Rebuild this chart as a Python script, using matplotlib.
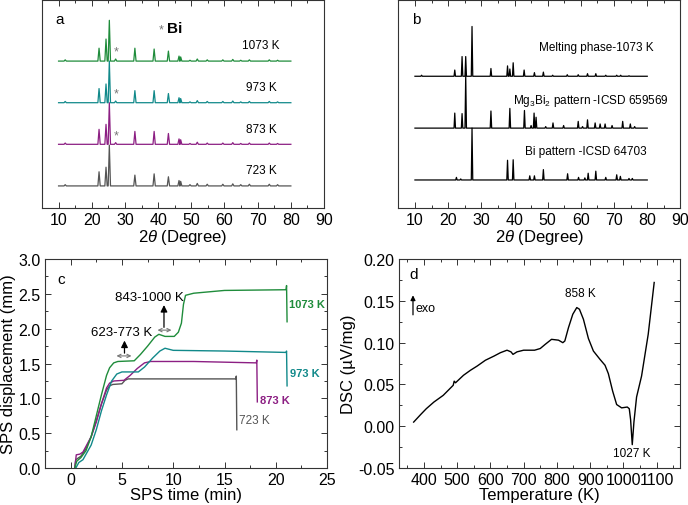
import numpy as np
import matplotlib.pyplot as plt
from matplotlib.ticker import MultipleLocator

plt.rcParams['font.family'] = ['Liberation Sans', 'DejaVu Sans']
plt.rcParams['axes.unicode_minus'] = False
plt.rcParams['mathtext.fontset'] = 'custom'
plt.rcParams['mathtext.rm'] = 'Liberation Sans'
plt.rcParams['mathtext.it'] = 'Liberation Sans:italic'

# ---- panel a: XRD after SPS ----
a_pos = [12.0, 22.2, 24.3, 25.3, 27.2, 33.0, 38.8, 43.1, 46.3, 46.8, 49.6, 51.8, 54.8, 59.5, 62.5, 64.9, 67.5, 73.5, 76.0]
a_1073 = [0.03, 0.31, 0.53, 0.98, 0.05, 0.31, 0.29, 0.24, 0.12, 0.10, 0.02, 0.05, 0.03, 0.03, 0.04, 0.02, 0.03, 0.03, 0.02]
a_973 = [0.03, 0.34, 0.45, 1.00, 0.04, 0.29, 0.29, 0.22, 0.12, 0.10, 0.02, 0.05, 0.03, 0.03, 0.04, 0.02, 0.03, 0.03, 0.02]
a_873 = [0.03, 0.36, 0.48, 1.00, 0.04, 0.31, 0.31, 0.26, 0.13, 0.11, 0.02, 0.05, 0.03, 0.03, 0.04, 0.02, 0.03, 0.03, 0.02]
a_723 = [0.03, 0.34, 0.45, 0.98, 0.00, 0.26, 0.29, 0.22, 0.13, 0.11, 0.03, 0.06, 0.04, 0.04, 0.05, 0.03, 0.04, 0.04, 0.03]
a_labels = ['723 K', '873 K', '973 K', '1073 K']
a_colors = ['#555555', '#8c1f83', '#11898a', '#1f8c3b']

# ---- panel b: reference patterns ----
melt_pos = [12.0, 22.0, 24.2, 25.3, 27.2, 32.9, 37.9, 38.6, 39.6, 42.9, 46.0, 48.7, 51.5, 55.9, 59.2, 62.0, 64.5, 67.5, 70.8, 72.0, 74.5]
melt_int = [0.02, 0.12, 0.38, 0.38, 0.96, 0.15, 0.20, 0.14, 0.26, 0.12, 0.07, 0.08, 0.02, 0.03, 0.03, 0.05, 0.05, 0.02, 0.02, 0.02, 0.01]
mg_pos = [22.0, 24.2, 25.3, 32.9, 38.6, 43.0, 45.0, 45.9, 46.5, 49.4, 51.6, 54.8, 59.2, 60.5, 62.0, 64.3, 65.8, 67.3, 69.4, 72.6, 74.9, 76.2]
mg_int = [0.29, 0.28, 1.03, 0.33, 0.38, 0.34, 0.05, 0.29, 0.21, 0.03, 0.10, 0.05, 0.13, 0.03, 0.16, 0.10, 0.08, 0.08, 0.05, 0.13, 0.08, 0.03]
bi_pos = [22.5, 23.8, 27.2, 37.9, 39.6, 44.6, 46.0, 48.7, 56.0, 59.3, 61.2, 62.2, 64.5, 67.5, 70.8, 71.9, 74.5, 75.5]
bi_int = [0.05, 0.02, 1.00, 0.38, 0.39, 0.08, 0.08, 0.20, 0.12, 0.05, 0.04, 0.13, 0.17, 0.05, 0.10, 0.07, 0.03, 0.03]

# ---- panel c: SPS displacement ----
t_723 = [0.4, 0.5, 1.0, 1.5, 2.0, 2.5, 3.0, 3.5, 3.8, 4.1, 5.0, 5.3, 5.6, 16.1, 16.15, 16.2]
d_723 = [0.0, 0.12, 0.17, 0.28, 0.45, 0.68, 0.92, 1.12, 1.18, 1.20, 1.21, 1.26, 1.28, 1.28, 1.32, 0.55]
t_873 = [0.4, 0.55, 0.9, 1.2, 2.0, 2.5, 3.0, 3.5, 3.8, 4.2, 5.2, 5.8, 6.5, 7.2, 7.8, 12.0, 18.1, 18.15, 18.2]
d_873 = [0.0, 0.19, 0.20, 0.23, 0.45, 0.66, 0.92, 1.15, 1.22, 1.25, 1.26, 1.33, 1.43, 1.51, 1.53, 1.53, 1.51, 1.55, 0.95]
t_973 = [0.5, 0.8, 1.2, 2.0, 2.5, 3.0, 3.5, 4.0, 4.5, 5.0, 6.6, 7.2, 8.0, 8.7, 9.2, 10.0, 15.0, 21.0, 21.05, 21.1]
d_973 = [0.0, 0.08, 0.12, 0.33, 0.55, 0.82, 1.05, 1.25, 1.35, 1.38, 1.38, 1.45, 1.58, 1.68, 1.72, 1.69, 1.68, 1.66, 1.68, 1.18]
t_1073 = [0.4, 0.6, 1.0, 1.5, 2.0, 2.5, 3.0, 3.5, 3.8, 4.2, 4.6, 6.2, 6.8, 7.5, 8.2, 8.6, 9.2, 10.1, 10.5, 10.8, 11.0, 11.2, 12.0, 15.0, 21.0, 21.05, 21.1]
d_1073 = [0.0, 0.10, 0.15, 0.25, 0.45, 0.75, 1.05, 1.33, 1.44, 1.51, 1.53, 1.54, 1.63, 1.75, 1.88, 1.92, 1.89, 1.89, 1.95, 2.08, 2.35, 2.48, 2.51, 2.55, 2.56, 2.62, 2.10]

# ---- panel d: DSC ----
temp = [369, 390, 407, 430, 458, 488, 491, 495, 519, 540, 560, 585, 611, 630, 650, 662, 668, 680, 700, 733, 750, 765, 784,
        805, 818, 824, 835, 848, 860, 868, 880, 895, 910, 930, 945, 955, 968, 980, 995, 1012, 1018, 1022, 1027, 1032, 1040,
        1055, 1075, 1093]
dsc = [0.005, 0.014, 0.021, 0.029, 0.037, 0.049, 0.054, 0.052, 0.061, 0.067, 0.072, 0.079, 0.084, 0.088, 0.091, 0.089,
       0.086, 0.089, 0.091, 0.091, 0.093, 0.098, 0.104, 0.103, 0.100, 0.102, 0.118, 0.134, 0.142, 0.140, 0.128, 0.105,
       0.090, 0.080, 0.073, 0.063, 0.042, 0.026, 0.022, 0.023, 0.021, 0.008, -0.022, 0.005, 0.035, 0.060, 0.110, 0.172]


def stick_pattern(pos, inten, w, lo=10, hi=80):
    xs, ys = [lo], [0]
    for p, h in zip(pos, inten):
        xs += [p - w, p, p + w]
        ys += [0, h, 0]
    xs.append(hi)
    ys.append(0)
    return np.array(xs), np.array(ys)


def style(ax):
    for s in ax.spines.values():
        s.set_color('#333333')
        s.set_linewidth(0.8)
    ax.tick_params(which='both', direction='in', top=True, right=True, colors='#333333',
                   labelcolor='black', labelsize=11.5, width=0.7, pad=3)
    ax.tick_params(which='major', length=4)
    ax.tick_params(which='minor', length=2)


fig = plt.figure(figsize=(6.88, 5.06), dpi=100)

# a
ax = fig.add_axes([0.061, 0.587, 0.410, 0.412])
for i, ints in enumerate([a_723, a_873, a_973, a_1073]):
    x, y = stick_pattern(a_pos, ints, 0.35)
    ax.plot(x, y + i, color=a_colors[i], lw=0.9)
    ax.text(71, i + 0.38, a_labels[i], ha='center', va='center', fontsize=8.5)
    if i > 0:
        ax.text(27.3, i + 0.22, '*', color='#777777', ha='center', va='center', fontsize=9)
ax.text(41.0, 3.77, '*', color='#777777', ha='center', va='center', fontsize=9)
ax.text(42.6, 3.79, 'Bi', ha='left', va='center', fontsize=11, fontweight='bold')
ax.text(9, 4.0, 'a', fontsize=11, va='center')
ax.set_xlim(5, 90)
ax.set_ylim(-0.53, 4.48)
ax.set_yticks([])
ax.xaxis.set_major_locator(MultipleLocator(10))
ax.xaxis.set_minor_locator(MultipleLocator(5))
style(ax)
ax.tick_params(left=False, right=False, which='both')
ax.set_xlabel(r'2$\it{\theta}$ (Degree)', fontsize=12, labelpad=0)

# b
ax = fig.add_axes([0.579, 0.587, 0.410, 0.412])
for off, pos, ints in [(2, melt_pos, melt_int), (1, mg_pos, mg_int), (0, bi_pos, bi_int)]:
    x, y = stick_pattern(pos, ints, 0.22)
    ax.plot(x, y + off, color='black', lw=0.9)
ax.text(81.8, 2.56, 'Melting phase-1073 K', ha='right', va='center', fontsize=8.5)
ax.text(86.3, 1.54, r'Mg$_3$Bi$_2$ pattern -ICSD 659569', ha='right', va='center', fontsize=8.5)
ax.text(79.7, 0.56, 'Bi pattern -ICSD 64703', ha='right', va='center', fontsize=8.5)
ax.text(9, 3.1, 'b', fontsize=11, va='center')
ax.set_xlim(5, 90)
ax.set_ylim(-0.54, 3.48)
ax.set_yticks([])
ax.xaxis.set_major_locator(MultipleLocator(10))
ax.xaxis.set_minor_locator(MultipleLocator(5))
style(ax)
ax.tick_params(left=False, right=False, which='both')
ax.set_xlabel(r'2$\it{\theta}$ (Degree)', fontsize=12, labelpad=0)

# c
ax = fig.add_axes([0.0654, 0.073, 0.410, 0.413])
ax.plot(t_723, d_723, color=a_colors[0], lw=1.0)
ax.plot(t_873, d_873, color=a_colors[1], lw=1.0)
ax.plot(t_973, d_973, color=a_colors[2], lw=1.0)
ax.plot(t_1073, d_1073, color=a_colors[3], lw=1.0)
ax.text(16.4, 0.69, '723 K', color=a_colors[0], fontsize=8.5, va='center')
ax.text(18.5, 0.97, '873 K', color=a_colors[1], fontsize=8, va='center', fontweight='bold')
ax.text(21.4, 1.37, '973 K', color=a_colors[2], fontsize=8, va='center', fontweight='bold')
ax.text(21.25, 2.36, '1073 K', color=a_colors[3], fontsize=8, va='center', fontweight='bold')
ax.annotate('', xy=(4.2, 1.61), xytext=(6.2, 1.61),
            arrowprops=dict(arrowstyle='<->', color='#777777', lw=0.8, mutation_scale=6))
ax.annotate('', xy=(5.25, 1.87), xytext=(5.25, 1.61),
            arrowprops=dict(arrowstyle='-|>', color='black', lw=0.9, mutation_scale=10))
ax.text(5.0, 1.96, '623-773 K', ha='center', va='center', fontsize=9.5)
ax.annotate('', xy=(8.2, 1.98), xytext=(10.1, 1.98),
            arrowprops=dict(arrowstyle='<->', color='#777777', lw=0.8, mutation_scale=6))
ax.annotate('', xy=(9.1, 2.38), xytext=(9.1, 1.98),
            arrowprops=dict(arrowstyle='-|>', color='black', lw=0.9, mutation_scale=10))
ax.text(7.7, 2.46, '843-1000 K', ha='center', va='center', fontsize=9.5)
ax.text(-1.3, 2.72, 'c', fontsize=11, va='center')
ax.set_xlim(-2.5, 25)
ax.set_ylim(0, 3.0)
ax.xaxis.set_major_locator(MultipleLocator(5))
ax.xaxis.set_minor_locator(MultipleLocator(2.5))
ax.yaxis.set_major_locator(MultipleLocator(0.5))
ax.yaxis.set_minor_locator(MultipleLocator(0.25))
ax.yaxis.set_major_formatter('{x:.1f}')
style(ax)
ax.set_xlabel('SPS time (min)', fontsize=12, labelpad=0)
ax.set_ylabel('SPS displacement (mm)', fontsize=12, labelpad=2)

# d
ax = fig.add_axes([0.580, 0.073, 0.409, 0.413])
ax.plot(temp, dsc, color='black', lw=1.0)
ax.annotate('', xy=(367, 0.160), xytext=(367, 0.130),
            arrowprops=dict(arrowstyle='-|>', color='black', lw=0.9, mutation_scale=7))
ax.text(376, 0.142, 'exo', fontsize=9, va='center')
ax.text(871, 0.159, '858 K', fontsize=8.5, ha='center', va='center')
ax.text(1024, -0.032, '1027 K', fontsize=8.5, ha='center', va='center')
ax.text(357, 0.182, 'd', fontsize=11, va='center')
ax.set_xlim(325, 1172)
ax.set_ylim(-0.05, 0.20)
ax.xaxis.set_major_locator(MultipleLocator(100))
ax.xaxis.set_minor_locator(MultipleLocator(50))
ax.yaxis.set_major_locator(MultipleLocator(0.05))
ax.yaxis.set_minor_locator(MultipleLocator(0.025))
ax.yaxis.set_major_formatter('{x:.2f}')
style(ax)
ax.set_xlabel('Temperature (K)', fontsize=12, labelpad=0)
ax.set_ylabel('DSC (\u00b5V/mg)', fontsize=12, labelpad=2)

fig.savefig('out.png', dpi=100)
